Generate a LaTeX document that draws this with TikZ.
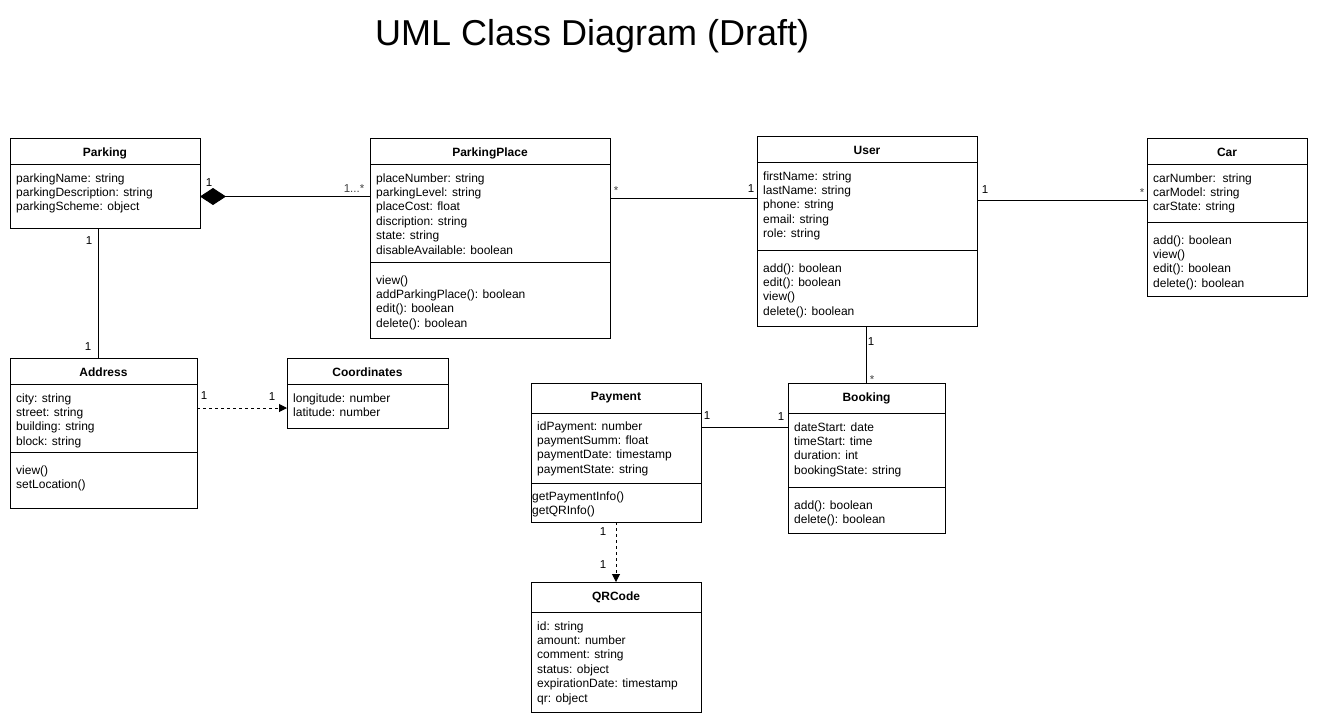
\documentclass[tikz,border=0pt]{standalone}
\usepackage{fontspec}
\setmainfont{Liberation Sans}
\usetikzlibrary{arrows.meta}
\tikzset{
  line/.style={draw=black, line width=1pt},
  classrect/.style={line, fill=white, rectangle, inner sep=0pt, outer sep=0pt},
  classtitle/.style={anchor=base, inner sep=0pt, font=\fontsize{12}{14.4}\selectfont\bfseries},
  txt/.style={anchor=base west, inner sep=0pt, font=\fontsize{12}{14.4}\selectfont},
  lbl/.style={anchor=base, inner sep=0pt, font=\fontsize{11.5}{13}\selectfont},
  starlbl/.style={anchor=base, inner sep=0pt, text=black!75, font=\fontsize{11.5}{13}\selectfont},
  dep/.style={line, dash pattern=on 3pt off 3pt, -{Triangle[length=8pt,width=8pt]}},
  comp/.style={line, -{Diamond[length=26pt,width=17pt]}}
}
% name, x1, y1, x2, y2, title, title baseline
\newcommand\classbox[7]{%
  \node[classrect, minimum width={#4-#2}, minimum height={#5-#3}] (#1) at ({(#2+#4)/2},{-(#3+#5)/2}) {};
  \node[classtitle] (#1-t) at ({(#2+#4)/2},-#7) {#6};
}
% node, y
\newcommand\classdiv[2]{\draw[line] (#1.west |- 0,-#2) -- (#1.east |- 0,-#2);}
% node, x, first baseline, prefix, list
\newcommand\classlines[5]{%
  \foreach [count=\i] \t in {#5} {\node[txt] (#1-#4\i) at (#2,{-#3-14.4*(\i-1)}) {\t};}
}
\begin{document}
\begin{tikzpicture}[x=1pt,y=1pt]
\useasboundingbox (0,0) rectangle (1318,-726);

\node[anchor=base west, inner sep=0pt, font=\fontsize{36}{43}\selectfont] (title) at (375,-45) {UML Class Diagram (Draft)};

% Parking
\classbox{Pk}{10}{138}{200}{228}{Parking}{156}
\classdiv{Pk}{164}
\classlines{Pk}{16}{182}{a}{{parkingName: string},{parkingDescription: string},{parkingScheme: object}}

% ParkingPlace
\classbox{PP}{370}{138}{610}{338}{ParkingPlace}{156}
\classdiv{PP}{164}
\classdiv{PP}{262}
\classlines{PP}{376}{182}{a}{{placeNumber: string},{parkingLevel: string},{placeCost: float},{discription: string},{state: string},{disableAvailable: boolean}}
\classlines{PP}{376}{284}{m}{{view()},{addParkingPlace(): boolean},{edit(): boolean},{delete(): boolean}}

% User
\classbox{U}{757}{136}{977}{326}{User}{154}
\classdiv{U}{162}
\classdiv{U}{250}
\classlines{U}{763}{180}{a}{{firstName: string},{lastName: string},{phone: string},{email: string},{role: string}}
\classlines{U}{763}{272}{m}{{add(): boolean},{edit(): boolean},{view()},{delete(): boolean}}

% Car
\classbox{Car}{1147}{138}{1307}{296}{Car}{156}
\classdiv{Car}{164}
\classdiv{Car}{222}
\classlines{Car}{1153}{182}{a}{{carNumber:\ \ string},{carModel: string},{carState: string}}
\classlines{Car}{1153}{244}{m}{{add(): boolean},{view()},{edit(): boolean},{delete(): boolean}}

% Address
\classbox{Ad}{10}{358}{197}{508}{Address}{376}
\classdiv{Ad}{384}
\classdiv{Ad}{452}
\classlines{Ad}{16}{402}{a}{{city: string},{street: string},{building: string},{block: string}}
\classlines{Ad}{16}{474}{m}{{view()},{setLocation()}}

% Coordinates
\classbox{Co}{287}{358}{448}{428}{Coordinates}{376}
\classdiv{Co}{384}
\classlines{Co}{293}{402}{a}{{longitude: number},{latitude: number}}

% Payment
\classbox{Pay}{531}{383}{701}{522}{Payment}{400}
\classdiv{Pay}{413}
\classdiv{Pay}{483}
\classlines{Pay}{537}{430}{a}{{idPayment: number},{paymentSumm: float},{paymentDate: timestamp},{paymentState: string}}
\classlines{Pay}{532}{500}{m}{{getPaymentInfo()},{getQRInfo()}}

% Booking
\classbox{Bk}{788}{383}{945}{533}{Booking}{401}
\classdiv{Bk}{413}
\classdiv{Bk}{487}
\classlines{Bk}{794}{431}{a}{{dateStart: date},{timeStart: time},{duration: int},{bookingState: string}}
\classlines{Bk}{794}{509}{m}{{add(): boolean},{delete(): boolean}}

% QRCode
\classbox{QR}{531}{582}{701}{712}{QRCode}{600}
\classdiv{QR}{612}
\classlines{QR}{537}{630}{a}{{id: string},{amount: number},{comment: string},{status: object},{expirationDate: timestamp},{qr: object}}

% connectors
\draw[comp] (PP.west |- 0,-196.5) -- (Pk.east |- 0,-196.5);
\draw[line] (PP.east |- 0,-198) -- (U.west |- 0,-198);
\draw[line] (U.east |- 0,-200) -- (Car.west |- 0,-200);
\draw[line] (Pk.south -| 98,0) -- (Ad.north -| 98,0);
\draw[dep] (Ad.east |- 0,-408) -- (Co.west |- 0,-408);
\draw[line] (U.south -| 866,0) -- (Bk.north -| 866,0);
\draw[line] (Pay.east |- 0,-427.5) -- (Bk.west |- 0,-427.5);
\draw[dep] (Pay.south -| 616,0) -- (QR.north -| 616,0);

% multiplicity labels
\node[lbl] (m1) at (209,-186) {1};
\node[starlbl] (m2) at (354,-192) {1...*};
\node[starlbl] (m3) at (616,-194) {*};
\node[lbl] (m4) at (751,-192.5) {1};
\node[lbl] (m5) at (985,-193.5) {1};
\node[starlbl] (m6) at (1142,-196) {*};
\node[lbl] (m7) at (89,-244.5) {1};
\node[lbl] (m8) at (88,-350.5) {1};
\node[lbl] (m9) at (204,-399.5) {1};
\node[lbl] (m10) at (272,-400.5) {1};
\node[lbl] (m11) at (871,-345.5) {1};
\node[starlbl] (m12) at (872,-383) {*};
\node[lbl] (m13) at (707,-419.5) {1};
\node[lbl] (m14) at (781,-420.5) {1};
\node[lbl] (m15) at (603,-535.5) {1};
\node[lbl] (m16) at (603,-568.5) {1};
\end{tikzpicture}
\end{document}
